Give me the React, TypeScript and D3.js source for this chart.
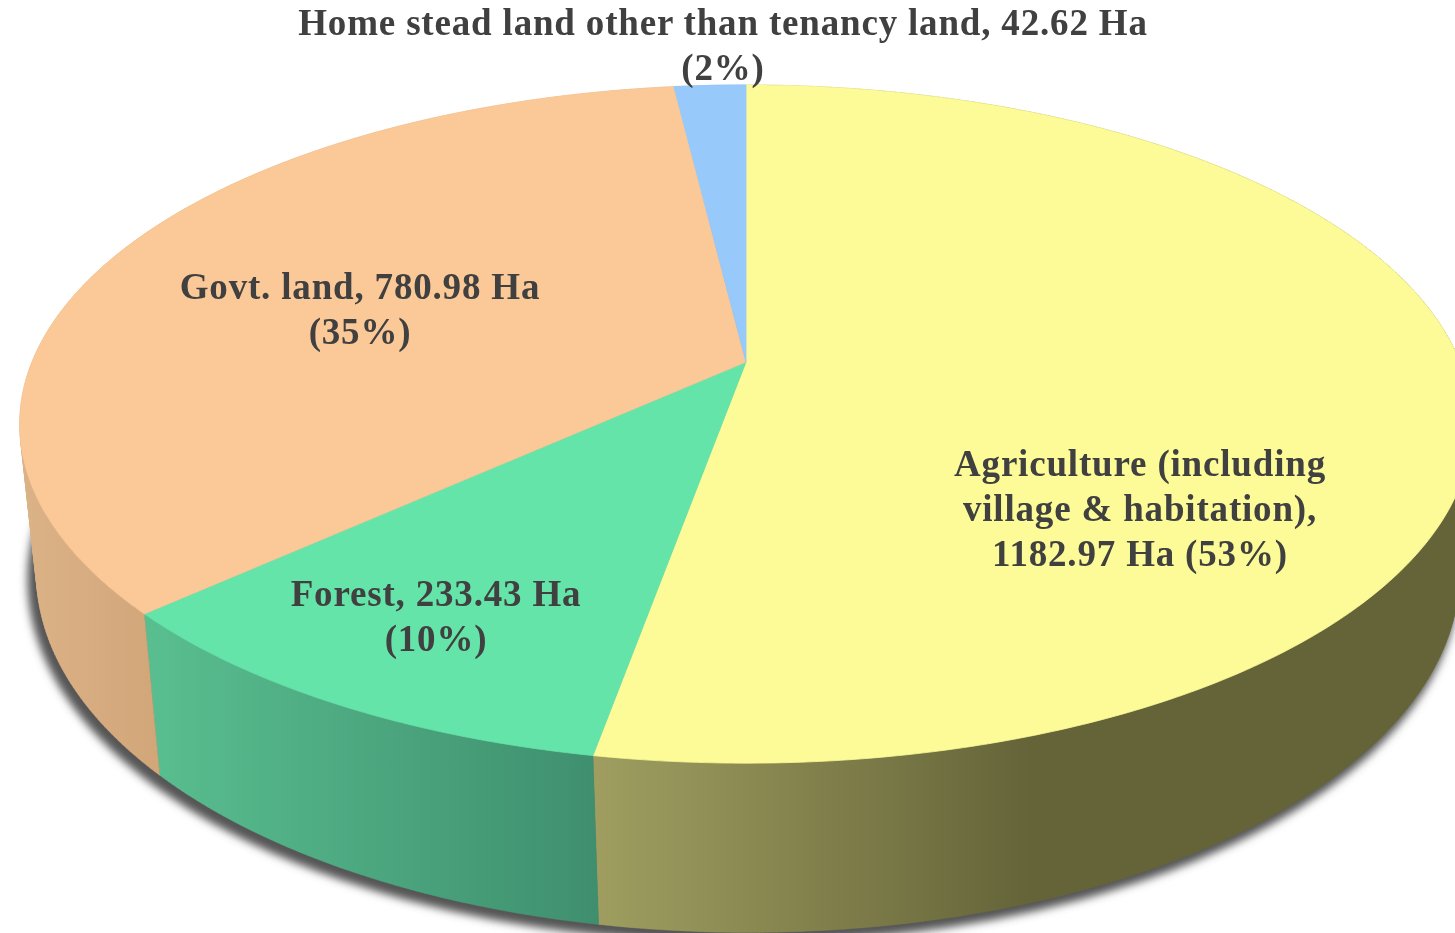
import React from "react";
import * as d3 from "d3";

const width = 1455;
const height = 933;

const categories = ["Agriculture", "Forest", "Govt. land", "Home stead land"];
const areaHa = [1182.97, 233.43, 780.98, 42.62];
const labelLines = [
  ["Agriculture (including", "village & habitation),", "1182.97 Ha (53%)"],
  ["Forest, 233.43 Ha", "(10%)"],
  ["Govt. land, 780.98 Ha", "(35%)"],
  ["Home stead land other than tenancy land, 42.62 Ha", "(2%)"],
];

const topColors = ["#fcfb97", "#65e4aa", "#fbc897", "#97c9fb"];
const wallColors = [
  ["#9f9e60", "#656439"],
  ["#58bd8f", "#3f8f6e"],
  ["#dbb186", "#d1a679"],
  ["#7fa8d0", "#7fa8d0"],
];
const wallStops = [
  [597, 1030],
  [160, 597],
  [30, 160],
  [675, 746],
];
const labelAnchors = [
  [1140, 475.5],
  [436, 605.5],
  [360, 298.5],
  [723, 34.5],
];
const labelGap = 45;

// perspective projection of the disc, x/y on the unit circle, z = 0 top, 1 bottom
const cx = 746;
const radiusX = 714;
const project = (x: number, y: number, z: number): [number, number] => {
  const w = 1 - 0.183 * y + 0.02 * z;
  return [cx + 2 * z + (radiusX * x) / w, (362 + 261.5 * y + 157 * z) / w];
};
const rim = (angle: number, z: number) =>
  project(Math.sin(angle), -Math.cos(angle), z);

const arcSamples = (a0: number, a1: number) => {
  const n = Math.max(2, Math.ceil((a1 - a0) / 0.01));
  return d3.range(n + 1).map((i) => a0 + ((a1 - a0) * i) / n);
};

const line = d3.line();
const pie = d3
  .pie<number>()
  .sort(null)
  .startAngle(0)
  .endAngle(2 * Math.PI);

// side wall as small quads, all wound the same way so nonzero fill leaves no holes at the tangent
const wallPath = (a0: number, a1: number) =>
  d3
    .pairs(arcSamples(a0, a1))
    .map(([p, q]) => {
      const quad = [rim(p, 0), rim(q, 0), rim(q, 1), rim(p, 1)] as [number, number][];
      if (d3.polygonArea(quad) < 0) quad.reverse();
      return line(quad) + "Z";
    })
    .join("");

const App = () => {
  const slices = pie(areaHa);
  const bottomRim = arcSamples(0, 2 * Math.PI).map((a) => rim(a, 1));

  return (
    <svg
      width={width}
      height={height}
      viewBox={`0 0 ${width} ${height}`}
      style={{ position: "absolute", left: 0, top: 0, background: "#fff" }}
    >
      <defs>
        <filter id="shadow" x="-10%" y="-10%" width="120%" height="120%">
          <feGaussianBlur stdDeviation="4.5" />
        </filter>
        <filter id="soft" x="-5%" y="-5%" width="110%" height="110%">
          <feGaussianBlur stdDeviation="0.35" />
        </filter>
        {categories.map((c, i) => (
          <linearGradient
            key={c}
            id={`wall${i}`}
            gradientUnits="userSpaceOnUse"
            x1={wallStops[i][0]}
            x2={wallStops[i][1]}
            y1={0}
            y2={0}
          >
            <stop offset="0" stopColor={wallColors[i][0]} />
            <stop offset="1" stopColor={wallColors[i][1]} />
          </linearGradient>
        ))}
      </defs>

      <path
        d={line(bottomRim) + "Z"}
        fill="#555"
        stroke="#555"
        strokeWidth={8}
        filter="url(#shadow)"
        transform="translate(-5,6)"
      />

      {slices.map((s, i) => (
        <path
          key={categories[i]}
          d={wallPath(s.startAngle, s.endAngle)}
          fill={`url(#wall${i})`}
          stroke={`url(#wall${i})`}
          strokeWidth={0.4}
        />
      ))}

      {slices.map((s, i) => {
        const pts = [
          project(0, 0, 0),
          ...arcSamples(s.startAngle, s.endAngle).map((a) => rim(a, 0)),
        ];
        return (
          <path
            key={categories[i]}
            d={line(pts) + "Z"}
            fill={topColors[i]}
            stroke={topColors[i]}
            strokeWidth={0.8}
          />
        );
      })}

      <g
        fontFamily="'Liberation Serif', serif"
        fontWeight="bold"
        fontSize={37}
        letterSpacing={0.82}
        fill="#404040"
        textAnchor="middle"
        filter="url(#soft)"
      >
        {labelLines.map((lines, i) => (
          <text key={categories[i]}>
            {lines.map((t, j) => (
              <tspan key={t} x={labelAnchors[i][0]} y={labelAnchors[i][1] + j * labelGap}>
                {t}
              </tspan>
            ))}
          </text>
        ))}
      </g>
    </svg>
  );
};

export default App;
